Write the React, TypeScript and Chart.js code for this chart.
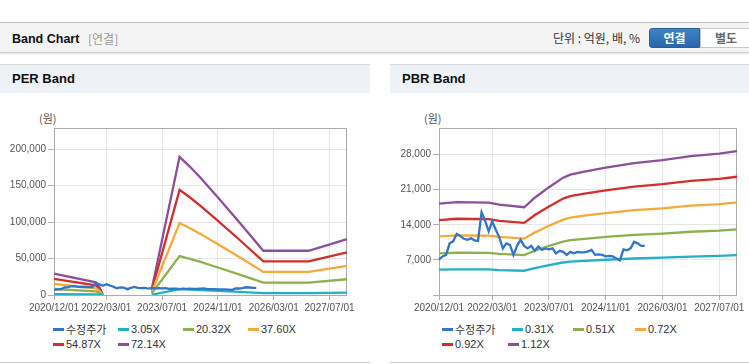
import React, { useEffect, useRef } from 'react';
import { Chart, registerables } from 'chart.js';
Chart.register(...registerables);

// ---------- categories ----------
const FIRST_YEAR = 2020;
const FIRST_MONTH = 12;
const MONTH_COUNT = 85;
const months: string[] = [];
for (let i = 0; i < MONTH_COUNT; i++) {
  const m0 = FIRST_MONTH - 1 + i;
  const y = FIRST_YEAR + Math.floor(m0 / 12);
  const m = (m0 % 12) + 1;
  months.push(`${y}/${m < 10 ? '0' + m : m}/01`);
}
const xTickLabels = ['2020/12/01', '2022/03/01', '2023/07/01', '2024/11/01', '2026/03/01', '2027/07/01'];
const perYTicks = [0, 50000, 100000, 150000, 200000];
const pbrYTicks = [0, 7000, 14000, 21000, 28000];

// ---------- 수정주가 (monthly, from 2020/12) ----------
const price = [
  7100, 7700, 8000, 10300, 10700, 12200, 11800, 11200, 11000, 11300,
  10900, 10800, 16500, 14800, 12700, 14700, 13000, 11500, 9300, 10300,
  10000, 8000, 9800, 11000, 9800, 9300, 9800, 8800, 9700, 9000,
  9300, 9100, 9300, 8300, 8800, 8600, 8000, 8600, 8300, 8600,
  8500, 8500, 8700, 9000, 8000, 8100, 8000, 7700, 7800, 7700,
  7300, 6900, 9100, 8900, 9300, 10600, 10300, 9800, 9800,
];

// ---------- PER band ----------
const perBandDates = ['2020/12/01', '2021/12/01', '2022/01/01', '2022/02/01', '2022/03/01', '2023/04/01', '2023/12/01', '2024/03/01', '2024/06/01', '2024/11/01', '2025/05/01', '2025/12/01', '2027/01/01', '2027/12/01'];
const per305 = [1235, 736, 465, 0, null, 321, 8012, 7433, 6799, 5657, 4249, 2566, 2566, 3243];
const per2032 = [8230, 4900, 3100, 0, null, 2140, 53380, 49520, 45300, 37690, 28310, 17100, 17100, 21610];
const per3760 = [15220, 9070, 5730, 0, null, 3960, 98770, 91630, 83810, 69740, 52380, 31640, 31640, 39980];
const per5487 = [22210, 13230, 8370, 0, null, 5780, 144130, 133710, 122300, 101770, 76440, 46170, 46170, 58340];
const per7214 = [29200, 17400, 11000, 0, null, 7600, 189500, 175800, 160800, 133800, 100500, 60700, 60700, 76700];

// ---------- PBR band ----------
const pbrBandDates = ['2020/12/01', '2021/05/01', '2022/02/01', '2022/05/01', '2022/12/01', '2023/03/01', '2023/07/01', '2023/11/01', '2024/01/01', '2024/05/01', '2024/11/01', '2025/07/01', '2026/03/01', '2026/11/01', '2027/07/01', '2027/12/01'];
const pbr031 = [5040, 5120, 5090, 4980, 4840, 5370, 5950, 6480, 6640, 6810, 7030, 7280, 7450, 7670, 7810, 7940];
const pbr051 = [8290, 8420, 8380, 8200, 7970, 8830, 9790, 10660, 10930, 11200, 11570, 11980, 12250, 12610, 12840, 13070];
const pbr072 = [11700, 11890, 11830, 11570, 11250, 12470, 13820, 15040, 15430, 15810, 16330, 16910, 17290, 17810, 18130, 18450];
const pbr092 = [14950, 15200, 15110, 14790, 14380, 15940, 17660, 19220, 19710, 20210, 20860, 21600, 22100, 22750, 23160, 23580];
const pbr112 = [18200, 18500, 18400, 18000, 17500, 19400, 21500, 23400, 24000, 24600, 25400, 26300, 26900, 27700, 28200, 28700];

const C = {
  price: '#3076c9',
  cyan: '#22b0c6',
  green: '#8fb04d',
  orange: '#f4a93a',
  red: '#d22f2b',
  purple: '#8d4e9b',
};

const pts = (dates: string[], vals: (number | null)[]) => dates.map((d, i) => ({ x: d, y: vals[i] }));

const perSeries = [
  { label: '수정주가', color: C.price, data: price },
  { label: '3.05X', color: C.cyan, data: pts(perBandDates, per305) },
  { label: '20.32X', color: C.green, data: pts(perBandDates, per2032) },
  { label: '37.60X', color: C.orange, data: pts(perBandDates, per3760) },
  { label: '54.87X', color: C.red, data: pts(perBandDates, per5487) },
  { label: '72.14X', color: C.purple, data: pts(perBandDates, per7214) },
];
const pbrSeries = [
  { label: '수정주가', color: C.price, data: price },
  { label: '0.31X', color: C.cyan, data: pts(pbrBandDates, pbr031) },
  { label: '0.51X', color: C.green, data: pts(pbrBandDates, pbr051) },
  { label: '0.72X', color: C.orange, data: pts(pbrBandDates, pbr072) },
  { label: '0.92X', color: C.red, data: pts(pbrBandDates, pbr092) },
  { label: '1.12X', color: C.purple, data: pts(pbrBandDates, pbr112) },
];

const AXIS_FONT = { family: "'Liberation Sans', Arial, sans-serif", size: 10 };

const framePlugin = {
  id: 'frame',
  beforeDatasetsDraw(chart: any) {
    const { ctx, chartArea: a } = chart;
    ctx.save();
    ctx.strokeStyle = '#ababab';
    ctx.lineWidth = 1;
    ctx.strokeRect(Math.round(a.left) + 0.5, Math.round(a.top) + 0.5, Math.round(a.right - a.left) - 1, Math.round(a.bottom - a.top));
    ctx.restore();
  },
};

function BandCanvas(props: { left: number; top: number; width: number; height: number; padRight: number; series: any[]; yMax: number; yTicks: number[]; hideZero: boolean }) {
  const ref = useRef<HTMLCanvasElement>(null);
  useEffect(() => {
    const { series, yMax, yTicks, hideZero, padRight } = props;
    const chart = new Chart(ref.current as HTMLCanvasElement, {
      type: 'line',
      data: {
        labels: months,
        datasets: series.map((s) => ({
          label: s.label,
          data: s.data,
          borderColor: s.color,
          backgroundColor: s.color,
          borderWidth: 2.3,
          pointRadius: 0,
          pointHoverRadius: 0,
          tension: 0,
          fill: false,
          spanGaps: false,
        })),
      },
      options: {
        responsive: false,
        animation: false,
        devicePixelRatio: 1,
        layout: { padding: { left: 0, right: padRight, top: 10, bottom: 0 } },
        plugins: { legend: { display: false }, tooltip: { enabled: false } },
        scales: {
          x: {
            type: 'category',
            offset: false,
            afterFit: (s: any) => { s.height = 25; },
            afterBuildTicks: (s: any) => { s.ticks = s.ticks.filter((t: any) => xTickLabels.includes(months[t.value])); },
            ticks: { autoSkip: false, maxRotation: 0, minRotation: 0, padding: 2, color: '#555', font: AXIS_FONT },
            grid: { color: '#e6e6e6', tickColor: '#b0b0b0', tickLength: 5, offset: false },
            border: { display: false },
          },
          y: {
            min: 0,
            max: yMax,
            afterFit: (s: any) => { s.width = 54; },
            afterBuildTicks: (s: any) => { s.ticks = yTicks.map((v) => ({ value: v })); },
            ticks: {
              autoSkip: false,
              padding: 2,
              color: '#555',
              font: AXIS_FONT,
              callback: (v: any) => (hideZero && Number(v) === 0 ? '' : Number(v).toLocaleString('en-US')),
            },
            grid: { color: '#e6e6e6', tickColor: '#b0b0b0', tickLength: 6 },
            border: { display: false },
          },
        },
      },
      plugins: [framePlugin],
    });
    return () => chart.destroy();
  }, []);
  return (
    <canvas
      ref={ref}
      width={props.width}
      height={props.height}
      style={{ position: 'absolute', left: props.left, top: props.top, width: props.width, height: props.height }}
    />
  );
}

const LEGEND_ROWS = [329, 344];
const perLegend = [
  { s: 0, x: 53, r: 0 }, { s: 1, x: 118, r: 0 }, { s: 2, x: 183, r: 0 }, { s: 3, x: 248, r: 0 },
  { s: 4, x: 53, r: 1 }, { s: 5, x: 118, r: 1 },
];
const pbrLegend = [
  { s: 0, x: 442, r: 0 }, { s: 1, x: 512, r: 0 }, { s: 2, x: 573, r: 0 }, { s: 3, x: 635, r: 0 },
  { s: 4, x: 442, r: 1 }, { s: 5, x: 508, r: 1 },
];

function Legend({ items, series }: { items: any[]; series: any[] }) {
  return (
    <>
      {items.map((it, k) => (
        <div key={k} style={{ position: 'absolute', left: it.x, top: LEGEND_ROWS[it.r] - 8, height: 16, display: 'flex', alignItems: 'center', whiteSpace: 'nowrap', fontSize: 11, color: '#333', fontFamily: "'Liberation Sans', 'Noto Sans CJK KR', sans-serif" }}>
          <span style={{ display: 'inline-block', width: 11, height: 3, background: series[it.s].color, marginRight: 2 }} />
          <span>{series[it.s].label}</span>
        </div>
      ))}
    </>
  );
}

function Panel({ left, width, title, unitX }: { left: number; width: number; title: string; unitX: number }) {
  return (
    <>
      <div style={{ position: 'absolute', left, top: 64, width, height: 28, background: '#eef2f7', borderTop: '1px solid #d9d9d9' }} />
      <div style={{ position: 'absolute', left: left + 12, top: 64, height: 29, lineHeight: '29px', fontWeight: 'bold', fontSize: 13, color: '#111', fontFamily: "'Liberation Sans', sans-serif" }}>{title}</div>
      <div style={{ position: 'absolute', left: unitX, top: 110, fontSize: 11, color: '#555', lineHeight: '16px', fontFamily: "'Noto Sans CJK KR', sans-serif" }}>(원)</div>
      <div style={{ position: 'absolute', left, top: 362, width, height: 1, background: '#cfcfcf' }} />
    </>
  );
}

export default function App() {
  return (
    <div style={{ position: 'absolute', left: 0, top: 0, width: 749, height: 364, overflow: 'hidden', background: '#fff', fontFamily: "'Liberation Sans', 'Noto Sans CJK KR', sans-serif" }}>
      {/* header */}
      <div style={{ position: 'absolute', left: 0, top: 22, width: 749, height: 29, background: '#f4f4f4', borderTop: '1px solid #bdbdbd', borderBottom: '1px solid #cfcfcf', boxShadow: '0 1px 2px rgba(0,0,0,0.12)' }} />
      <div style={{ position: 'absolute', left: 12, top: 24, height: 30, lineHeight: '30px', fontSize: 12.5, fontWeight: 'bold', color: '#111' }}>Band Chart</div>
      <div style={{ position: 'absolute', left: 88, top: 24, height: 30, lineHeight: '30px', fontSize: 12, color: '#999', fontFamily: "'Noto Sans CJK KR', sans-serif" }}>[연결]</div>
      <div style={{ position: 'absolute', left: 553, top: 23, height: 30, lineHeight: '30px', fontSize: 12, color: '#333', fontFamily: "'Noto Sans CJK KR', sans-serif" }}>단위 : 억원, 배, %</div>
      <div style={{ position: 'absolute', left: 649, top: 28, width: 51, height: 20, boxSizing: 'border-box', background: 'linear-gradient(#3f83c8, #2a66a8)', border: '1px solid #2a5f9c', borderRadius: '3px 0 0 3px', color: '#fff', fontWeight: 'bold', fontSize: 12, lineHeight: '18px', textAlign: 'center', fontFamily: "'Noto Sans CJK KR', sans-serif" }}>연결</div>
      <div style={{ position: 'absolute', left: 700, top: 28, width: 52, height: 20, boxSizing: 'border-box', background: '#fff', border: '1px solid #c8c8c8', color: '#666', fontWeight: 'bold', fontSize: 12, lineHeight: '18px', textAlign: 'center', fontFamily: "'Noto Sans CJK KR', sans-serif" }}>별도</div>

      <Panel left={0} width={370} title="PER Band" unitX={39} />
      <Panel left={390} width={359} title="PBR Band" unitX={424} />

      <BandCanvas left={0} top={118} width={370} height={202} padRight={23} series={perSeries} yMax={229000} yTicks={perYTicks} hideZero={false} />
      <BandCanvas left={385} top={118} width={364} height={202} padRight={12} series={pbrSeries} yMax={33300} yTicks={pbrYTicks} hideZero={true} />

      <Legend items={perLegend} series={perSeries} />
      <Legend items={pbrLegend} series={pbrSeries} />
    </div>
  );
}
